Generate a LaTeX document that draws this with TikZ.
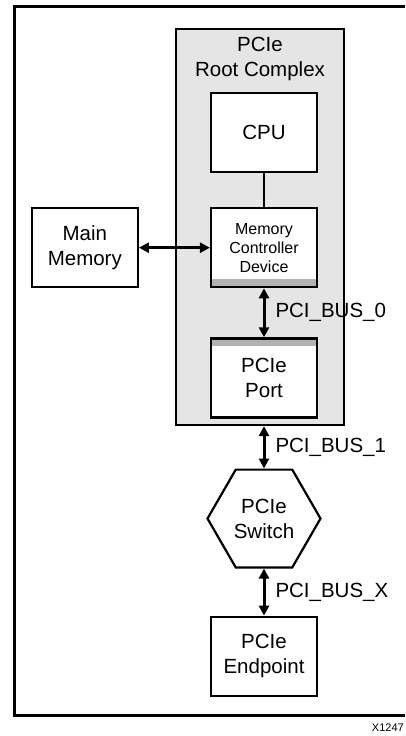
\documentclass[tikz,border=0pt]{standalone}
\usepackage{fontspec}
\setmainfont{Liberation Sans}
\usetikzlibrary{shapes.geometric, arrows.meta, positioning}
\tikzset{
    box/.style={draw=black, line width=2.2pt, fill=white, align=center, minimum width=106pt, minimum height=79pt, inner sep=0pt, font=\fontsize{20.5}{25}\selectfont},
    hexbox/.style={draw=black, line width=2.2pt, fill=white, regular polygon, regular polygon sides=6, minimum size=113pt, inner sep=0pt, align=center, font=\fontsize{20.5}{25}\selectfont},
    rcbox/.style={draw=black, line width=2.2pt, fill=gray!20},
    stripbot/.style={path picture={\fill[gray!60] (path picture bounding box.south west) rectangle ([yshift=8pt]path picture bounding box.south east);}},
    striptop/.style={path picture={\fill[gray!60] (path picture bounding box.north west) rectangle ([yshift=-8pt]path picture bounding box.north east);}},
    busarrow/.style={{Triangle[length=10pt,width=10pt]}-{Triangle[length=10pt,width=10pt]}, line width=3pt},
    buslabel/.style={font=\fontsize{20.5}{24}\selectfont, inner sep=0pt}
}
\begin{document}
\begin{tikzpicture}[x=1pt, y=-1pt]
    \useasboundingbox (0,0) rectangle (405,736);
    % outer frame
    \draw[line width=3pt] (405,6) -| (14,715) -- (405,715);
    \node[anchor=east, inner sep=0pt, font=\fontsize{11}{13}\selectfont] (fignum) at (404,728) {X1247};

    % root complex
    \node[rcbox, minimum width=168pt, minimum height=396pt] (rc) at (260,227) {};
    \node[below=9pt of rc.north, align=center, inner sep=0pt, font=\fontsize{20.5}{25}\selectfont] (rctitle) {PCIe\\Root Complex};
    \node[box] (cpu) at (264,132.5) {CPU};
    \node[box, stripbot, below=34pt of cpu, font=\fontsize{16}{19}\selectfont] (mc) {Memory\\Controller\\Device};
    \node[box, striptop, below=49pt of mc] (port) {PCIe\\Port};
    \node[box, left=71pt of mc] (mainmem) {Main\\Memory};

    % switch and endpoint
    \node[hexbox, below=50pt of port] (sw) {PCIe\\Switch};
    \node[box, below=47pt of sw] (ep) {PCIe\\Endpoint};

    \draw[line width=1.6pt] (cpu) -- (mc);
    \draw[busarrow] (mainmem.east) -- (mc.west);
    \draw[busarrow] (mc) -- (port) node[midway, right=10pt, buslabel] {PCI\_BUS\_0};
    \draw[busarrow] (sw.north |- rc.south) -- (sw.north) node[midway, right=10pt, buslabel] {PCI\_BUS\_1};
    \draw[busarrow] (sw.south) -- (ep.north) node[midway, right=10pt, buslabel] {PCI\_BUS\_X};
\end{tikzpicture}
\end{document}
